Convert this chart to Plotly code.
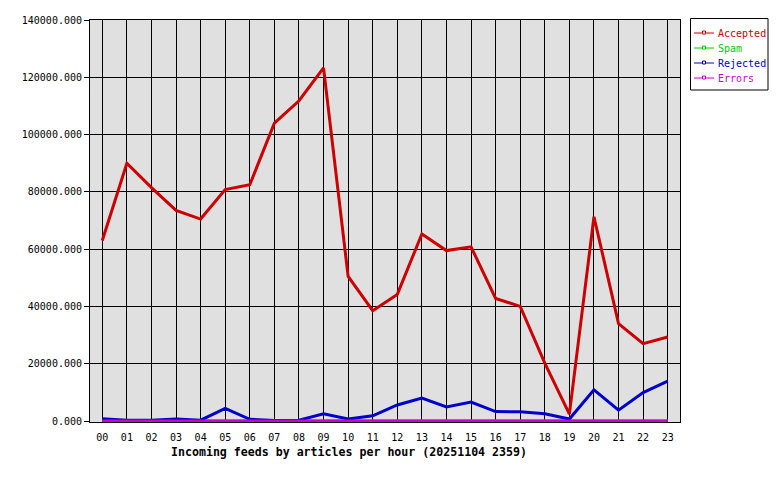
import plotly.graph_objects as go

hours = [f"{h:02d}" for h in range(24)]
accepted = [63000, 90000, 81500, 73500, 70500, 80800, 82500, 104000, 111800, 123300,
            50500, 38500, 44200, 65300, 59500, 60800, 42800, 40000, 20200, 2400,
            71300, 34000, 27000, 29300]
spam = [0] * 24
rejected = [800, 300, 300, 700, 300, 4400, 600, 200, 300, 2500,
            700, 1800, 5600, 8000, 4900, 6600, 3300, 3200, 2500, 700,
            10900, 3800, 9900, 13900]
errors = [0] * 24
y_ticks = [0, 20000, 40000, 60000, 80000, 100000, 120000, 140000]

series = [("Accepted", accepted, "#cc0000"),
          ("Spam", spam, "#00cc00"),
          ("Rejected", rejected, "#0000cc"),
          ("Errors", errors, "#cc00cc")]

# plot area in pixels
L, R, T, B = 90, 680, 20, 422
def px(xp):
    return (xp - L) / (R - L)
def py(yp):
    return (B - yp) / (B - T)

x = list(range(24))
fig = go.Figure()
for name, vals, col in series:
    fig.add_trace(go.Scatter(x=x, y=vals, mode="lines", line=dict(color=col, width=3),
                             showlegend=False, hoverinfo="skip", name=name))

mono = "DejaVu Sans Mono"
shapes = [dict(type="rect", xref="paper", yref="paper", x0=px(690.5), x1=px(768),
               y0=py(90), y1=py(18.5), line=dict(color="black", width=1),
               fillcolor="white", layer="above")]
annotations = []
legend_y = [33, 48, 63, 78]
for (name, vals, col), ly in zip(series, legend_y):
    shapes.append(dict(type="line", xref="paper", yref="paper", x0=px(694), x1=px(714),
                       y0=py(ly), y1=py(ly), line=dict(color=col, width=1), layer="above"))
    shapes.append(dict(type="rect", xref="paper", yref="paper", x0=px(702.5), x1=px(705.5),
                       y0=py(ly + 1), y1=py(ly - 2), line=dict(color=col, width=1),
                       fillcolor="white", layer="above"))
    annotations.append(dict(text=name, xref="paper", yref="paper", x=px(716), y=py(ly),
                            xanchor="left", yanchor="middle", showarrow=False,
                            font=dict(family=mono, size=10, color=col)))
annotations.append(dict(text="<b>Incoming feeds by articles per hour (20251104 2359)</b>",
                        xref="paper", yref="paper", x=px(348.5), y=py(452),
                        xanchor="center", yanchor="middle", showarrow=False,
                        font=dict(family=mono, size=11.6, color="black")))

fig.update_layout(
    width=780, height=480,
    margin=dict(l=L, r=780 - R, t=T, b=480 - B, autoexpand=False),
    paper_bgcolor="white", plot_bgcolor="#e0e0e0",
    font=dict(family=mono, size=10, color="black"),
    showlegend=False,
    xaxis=dict(range=[-0.5, 23.5], tickmode="array", tickvals=x, ticktext=hours,
               showgrid=True, gridcolor="black", gridwidth=1, zeroline=False,
               showline=True, linecolor="black", linewidth=1, mirror=True,
               layer="below traces",
               ticks="outside", ticklen=6, tickcolor="rgba(0,0,0,0)",
               tickfont=dict(family=mono, size=10)),
    yaxis=dict(range=[-350, 140000], tickmode="array", tickvals=y_ticks,
               ticktext=[f"{v}.000" for v in y_ticks],
               showgrid=True, gridcolor="black", gridwidth=1, zeroline=False,
               showline=True, linecolor="black", linewidth=1, mirror=True,
               layer="below traces",
               ticks="outside", ticklen=5, tickcolor="black",
               tickfont=dict(family=mono, size=10)),
    shapes=shapes,
    annotations=annotations,
)
fig.write_html("out.html")
